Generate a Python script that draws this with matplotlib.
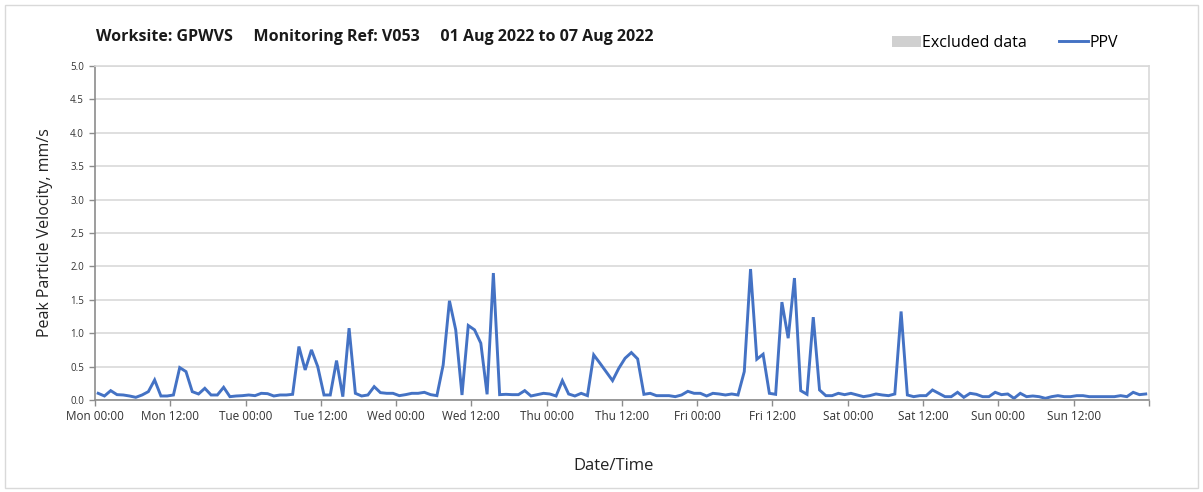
import matplotlib as mpl
import matplotlib.pyplot as plt
import matplotlib.dates as mdates
import pandas as pd
from matplotlib.lines import Line2D
from matplotlib.patches import Patch, Rectangle

# hourly PPV readings, mm/s, starting 01 Aug 2022 00:30
start = "2022-08-01 00:30"
ppv = [
    0.10, 0.06, 0.14, 0.08, 0.075, 0.06, 0.04, 0.075, 0.125, 0.30, 0.06, 0.06,
    0.075, 0.485, 0.425, 0.125, 0.09, 0.175, 0.075, 0.075, 0.19, 0.05, 0.06, 0.065,
    0.075, 0.065, 0.10, 0.095, 0.06, 0.075, 0.075, 0.085, 0.80, 0.45, 0.75, 0.50,
    0.075, 0.075, 0.59, 0.05, 1.075, 0.10, 0.06, 0.075, 0.20, 0.11, 0.10, 0.10,
    0.065, 0.08, 0.10, 0.10, 0.115, 0.08, 0.065, 0.525, 1.485, 1.05, 0.075, 1.115,
    1.05, 0.85, 0.085, 1.90, 0.08, 0.085, 0.08, 0.08, 0.14, 0.06, 0.08, 0.10,
    0.09, 0.06, 0.29, 0.09, 0.06, 0.10, 0.065, 0.675, 0.55, 0.42, 0.29, 0.475,
    0.625, 0.71, 0.615, 0.085, 0.10, 0.065, 0.065, 0.065, 0.05, 0.075, 0.13, 0.10,
    0.10, 0.06, 0.10, 0.09, 0.075, 0.09, 0.075, 0.425, 1.96, 0.61, 0.685, 0.10,
    0.085, 1.465, 0.925, 1.825, 0.14, 0.085, 1.24, 0.15, 0.065, 0.065, 0.10, 0.08,
    0.10, 0.075, 0.05, 0.065, 0.09, 0.075, 0.065, 0.09, 1.325, 0.075, 0.05, 0.065,
    0.065, 0.15, 0.10, 0.05, 0.05, 0.115, 0.04, 0.10, 0.085, 0.05, 0.05, 0.115,
    0.08, 0.09, 0.025, 0.10, 0.05, 0.06, 0.05, 0.025, 0.05, 0.065, 0.05, 0.05,
    0.065, 0.065, 0.05, 0.05, 0.05, 0.05, 0.05, 0.065, 0.05, 0.115, 0.08, 0.09,
]
period = ("2022-08-01 00:00", "2022-08-08 00:00")
title = "Worksite: GPWVS     Monitoring Ref: V053     01 Aug 2022 to 07 Aug 2022"

mpl.rcParams.update({
    "font.family": ["Open Sans", "DejaVu Sans"],
    "axes.edgecolor": "#8c8c8c",
    "xtick.color": "#8c8c8c",
    "ytick.color": "#8c8c8c",
    "xtick.labelcolor": "#333333",
    "ytick.labelcolor": "#333333",
})

times = pd.date_range(start, periods=len(ppv), freq="h")
t0, t1 = pd.Timestamp(period[0]), pd.Timestamp(period[1])

fig = plt.figure(figsize=(12.03, 4.92), dpi=100)
ax = fig.add_axes([0.079, 0.187, 0.876, 0.679])

ax.plot(times, ppv, color="#4472C4", linewidth=2.1, solid_joinstyle="miter")

ax.set_xlim(t0, t1)
ax.set_ylim(0, 5.0)
ax.set_yticks([i * 0.5 for i in range(11)])
ax.yaxis.set_major_formatter(mpl.ticker.FormatStrFormatter("%.1f"))


def tick_label(x, pos):
    # the closing midnight gets a tick but no label
    d = mdates.num2date(x)
    if abs(x - mdates.date2num(t1)) < 1e-6:
        return ""
    return d.strftime("%a %H:%M")


ax.xaxis.set_major_locator(mdates.HourLocator(byhour=[0, 12]))
ax.xaxis.set_major_formatter(mpl.ticker.FuncFormatter(tick_label))
ax.xaxis.set_minor_locator(mdates.DayLocator())
ax.tick_params(axis="x", which="major", length=4, width=1, labelsize=8.5, pad=3)
ax.tick_params(axis="x", which="minor", length=0)
ax.tick_params(axis="y", length=4, width=1, labelsize=7, pad=4)

# horizontal grid every 0.5, vertical grid at midnight only
ax.grid(axis="y", which="major", color="#d9d9d9", linewidth=1.2)
ax.grid(axis="x", which="minor", color="#d9d9d9", linewidth=1.2)
ax.set_axisbelow(True)
for side in ("top", "right"):
    ax.spines[side].set_color("#d9d9d9")
    ax.spines[side].set_linewidth(1.2)
for side in ("left", "bottom"):
    ax.spines[side].set_linewidth(1.2)

ax.set_ylabel("Peak Particle Velocity, mm/s", fontsize=11.5, color="#222222", labelpad=12)
ax.set_xlabel("Date/Time", fontsize=12, color="#222222")
ax.xaxis.set_label_coords(0.492, -0.174)

fig.text(0.080, 0.925, title, fontsize=11.5, fontweight="bold", color="#1a1a1a",
         ha="left", va="center")

handles = [
    Patch(facecolor="#d0d0d0", edgecolor="none"),
    Line2D([], [], color="#4472C4", linewidth=2.1),
]
fig.legend(handles, ["Excluded data", "PPV"], loc="center right",
           bbox_to_anchor=(0.941, 0.913), ncol=2, frameon=False, fontsize=11.5,
           handlelength=1.8, handleheight=0.7, handletextpad=0.1, columnspacing=2.0)

# thin frame around the whole chart
fig.patches.append(Rectangle((0.004, 0.008), 0.992, 0.982, transform=fig.transFigure,
                             fill=False, edgecolor="#d9d9d9", linewidth=1.0))

fig.savefig("out.png", dpi=100)
